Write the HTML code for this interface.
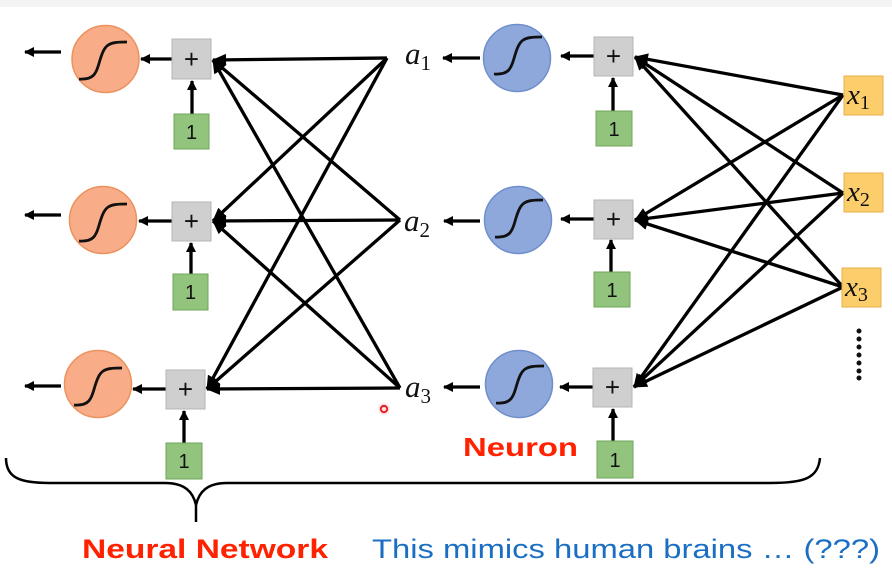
<!DOCTYPE html>
<html><head><meta charset="utf-8"><style>
html,body{margin:0;padding:0;background:#fff;}
svg{display:block;}
</style></head><body>
<svg width="892" height="586" viewBox="0 0 892 586" xmlns="http://www.w3.org/2000/svg">
<defs>
<marker id="ah" markerWidth="10" markerHeight="10" refX="9" refY="5" orient="auto" markerUnits="userSpaceOnUse">
<path d="M0,0 L10,5 L0,10 Z" fill="#000"/>
</marker>
<marker id="ah2" markerWidth="14" markerHeight="12" refX="13" refY="6" orient="auto" markerUnits="userSpaceOnUse">
<path d="M0,0 L14,6 L0,12 Z" fill="#000"/>
</marker>
</defs>
<rect x="0" y="0" width="892" height="7" fill="#f3f3f3"/>

<g stroke="#000" stroke-width="3.3" fill="none">
<line x1="387" y1="58" x2="213" y2="60" marker-end="url(#ah2)"/>
<line x1="400" y1="220" x2="213" y2="60" marker-end="url(#ah2)"/>
<line x1="400" y1="388" x2="213" y2="60" marker-end="url(#ah2)"/>
<line x1="387" y1="58" x2="213" y2="221" marker-end="url(#ah2)"/>
<line x1="400" y1="220" x2="213" y2="221" marker-end="url(#ah2)"/>
<line x1="400" y1="388" x2="213" y2="221" marker-end="url(#ah2)"/>
<line x1="387" y1="58" x2="207" y2="389" marker-end="url(#ah2)"/>
<line x1="400" y1="220" x2="207" y2="389" marker-end="url(#ah2)"/>
<line x1="400" y1="388" x2="207" y2="389" marker-end="url(#ah2)"/>
<line x1="843" y1="95" x2="635" y2="57" marker-end="url(#ah2)"/>
<line x1="843" y1="193" x2="635" y2="57" marker-end="url(#ah2)"/>
<line x1="843" y1="287" x2="635" y2="57" marker-end="url(#ah2)"/>
<line x1="843" y1="95" x2="635" y2="220" marker-end="url(#ah2)"/>
<line x1="843" y1="193" x2="635" y2="220" marker-end="url(#ah2)"/>
<line x1="843" y1="287" x2="635" y2="220" marker-end="url(#ah2)"/>
<line x1="843" y1="95" x2="634" y2="387" marker-end="url(#ah2)"/>
<line x1="843" y1="193" x2="634" y2="387" marker-end="url(#ah2)"/>
<line x1="843" y1="287" x2="634" y2="387" marker-end="url(#ah2)"/>

<line x1="61" y1="52" x2="25" y2="52" marker-end="url(#ah)"/>
<line x1="61" y1="215" x2="25" y2="215" marker-end="url(#ah)"/>
<line x1="61" y1="386" x2="25" y2="386" marker-end="url(#ah)"/>
<line x1="172" y1="59" x2="141" y2="59" marker-end="url(#ah)"/>
<line x1="172" y1="221" x2="139" y2="221" marker-end="url(#ah)"/>
<line x1="166" y1="389" x2="133" y2="389" marker-end="url(#ah)"/>
<line x1="192" y1="114" x2="192" y2="81" marker-end="url(#ah)"/>
<line x1="191" y1="274" x2="191" y2="243" marker-end="url(#ah)"/>
<line x1="184" y1="443" x2="184" y2="411" marker-end="url(#ah)"/>

<line x1="480" y1="58" x2="443" y2="58" marker-end="url(#ah)"/>
<line x1="480" y1="221" x2="444" y2="221" marker-end="url(#ah)"/>
<line x1="480" y1="387" x2="444" y2="387" marker-end="url(#ah)"/>
<line x1="594" y1="56" x2="561" y2="56" marker-end="url(#ah)"/>
<line x1="594" y1="219" x2="561" y2="219" marker-end="url(#ah)"/>
<line x1="593" y1="387" x2="560" y2="387" marker-end="url(#ah)"/>
<line x1="613" y1="111" x2="613" y2="78" marker-end="url(#ah)"/>
<line x1="611" y1="272" x2="611" y2="240" marker-end="url(#ah)"/>
<line x1="613" y1="441" x2="613" y2="409" marker-end="url(#ah)"/>
</g>

<g fill="#f8ad88" stroke="#eb925f" stroke-width="1.5">
<circle cx="105.5" cy="59" r="33.5"/>
<circle cx="103" cy="220" r="33.5"/>
<circle cx="98" cy="384" r="33.5"/>
</g>
<g fill="#8ea8dc" stroke="#6f8fcc" stroke-width="1.5">
<circle cx="517" cy="58" r="33.5"/>
<circle cx="518" cy="220" r="33.5"/>
<circle cx="519" cy="384" r="33.5"/>
</g>
<g stroke="#111" stroke-width="2.8" fill="none">
<path d="M79,79 C94,80 96,74 100,60 C105,44 108,42 127,42"/>
<path d="M79,241 C94,242 96,236 100,222 C105,206 108,204 127,204"/>
<path d="M74,405 C89,406 91,400 95,386 C100,370 103,368 122,368"/>
<path d="M494,74 C509,75 511,69 515,55 C520,39 523,37 542,37"/>
<path d="M495,237 C510,238 512,232 516,218 C521,202 524,200 543,200"/>
<path d="M496,403 C511,404 513,398 517,384 C522,368 525,366 544,366"/>
</g>

<g fill="#cfcfcf" stroke="#b5b5b5" stroke-width="1">
<rect x="172" y="39" width="39" height="40"/>
<rect x="172" y="202" width="39" height="39"/>
<rect x="166" y="370" width="39" height="39"/>
<rect x="594" y="37" width="39" height="39"/>
<rect x="594" y="200" width="39" height="39"/>
<rect x="593" y="368" width="39" height="39"/>
</g>
<g font-family="Liberation Sans, sans-serif" font-size="26" text-anchor="middle" fill="#111">
<text x="191.5" y="68">+</text>
<text x="191.5" y="230">+</text>
<text x="185.5" y="398">+</text>
<text x="613.5" y="65">+</text>
<text x="613.5" y="228">+</text>
<text x="612.5" y="396">+</text>
</g>

<g fill="#93c47d" stroke="#6fa55a" stroke-width="1">
<rect x="174" y="114" width="35" height="35"/>
<rect x="173" y="274" width="35" height="36"/>
<rect x="166" y="443" width="36" height="36"/>
<rect x="596" y="111" width="36" height="35"/>
<rect x="594" y="272" width="36" height="35"/>
<rect x="597" y="441" width="36" height="37"/>
</g>
<g font-family="Liberation Sans, sans-serif" font-size="20" text-anchor="middle" fill="#111">
<text x="191.5" y="139">1</text>
<text x="190.5" y="299">1</text>
<text x="184" y="468">1</text>
<text x="614" y="136">1</text>
<text x="612" y="297">1</text>
<text x="615" y="467">1</text>
</g>

<g fill="#fbcd6b" stroke="#e8b04a" stroke-width="1">
<rect x="844" y="76" width="39" height="39"/>
<rect x="844" y="173" width="39" height="39"/>
<rect x="842" y="268" width="39" height="39"/>
</g>
<g font-family="Liberation Serif, serif" font-style="italic" fill="#111">
<text x="847" y="104" font-size="29">x<tspan font-style="normal" font-size="20" dy="5">1</tspan></text>
<text x="847" y="201" font-size="29">x<tspan font-style="normal" font-size="20" dy="5">2</tspan></text>
<text x="845" y="296" font-size="29">x<tspan font-style="normal" font-size="20" dy="5">3</tspan></text>
<text x="405" y="64" font-size="31">a<tspan font-style="normal" font-size="21" dy="6">1</tspan></text>
<text x="404" y="231" font-size="31">a<tspan font-style="normal" font-size="21" dy="6">2</tspan></text>
<text x="405" y="397" font-size="31">a<tspan font-style="normal" font-size="21" dy="6">3</tspan></text>
</g>

<g fill="#111">
<circle cx="859" cy="331" r="2.5"/><circle cx="859" cy="339" r="2.5"/><circle cx="859" cy="347" r="2.5"/>
<circle cx="859" cy="355" r="2.5"/><circle cx="859" cy="363" r="2.5"/><circle cx="859" cy="371" r="2.5"/>
<circle cx="859" cy="378" r="2.5"/>
</g>

<circle cx="384" cy="409" r="6" fill="#ffdcdc" opacity="0.7"/>
<circle cx="384" cy="409" r="3.2" fill="none" stroke="#e11" stroke-width="1.8"/>

<path d="M6,458 C6,478 20,483 50,483 L165,483 C185,483 193,492 196,505 C199,492 207,483 227,483 L770,483 C805,483 818,478 820,458 M196,505 L196,522" stroke="#000" stroke-width="2.5" fill="none"/>

<text x="463" y="456" font-family="Liberation Sans, sans-serif" font-weight="bold" font-size="26" fill="#ff2200" textLength="115" lengthAdjust="spacingAndGlyphs">Neuron</text>
<text x="82" y="558" font-family="Liberation Sans, sans-serif" font-weight="bold" font-size="27" fill="#ff2200" textLength="246" lengthAdjust="spacingAndGlyphs">Neural Network</text>
<text x="372" y="558" font-family="Liberation Sans, sans-serif" font-size="27" fill="#1a6fc4" textLength="508" lengthAdjust="spacingAndGlyphs">This mimics human brains … (???)</text>
</svg>
</body></html>
